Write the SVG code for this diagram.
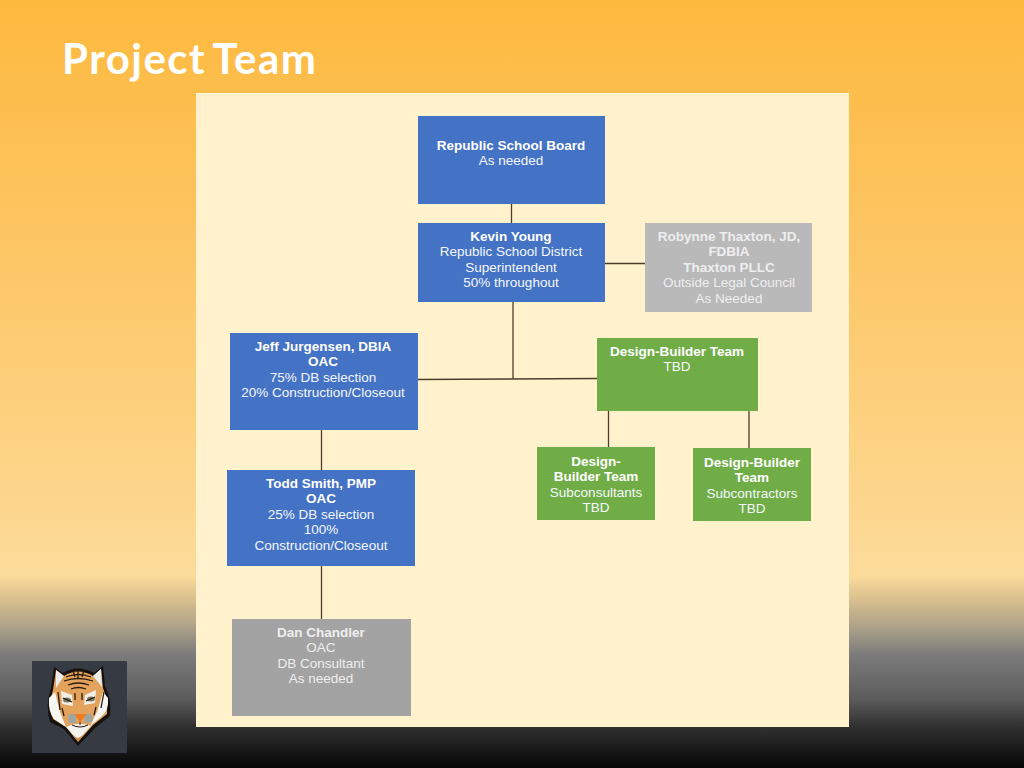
<svg xmlns="http://www.w3.org/2000/svg" width="1024" height="768" viewBox="0 0 1024 768">
<style>
.n{font:13.500px "Liberation Sans",Arial,sans-serif;fill:#f4f7fc;text-anchor:middle}
.b{font-weight:bold;fill:#fff}
.g{fill:#eeeeee}
.c{stroke:#4a3f2c;stroke-width:1.300;fill:none}
</style>
<defs>
<linearGradient id="bg" x1="0" y1="0" x2="0" y2="1">
<stop offset="0" stop-color="#fdb93e"/>
<stop offset="0.33" stop-color="#fdc665"/>
<stop offset="0.65" stop-color="#fdd68c"/>
<stop offset="0.75" stop-color="#fbdb9b"/>
<stop offset="0.78" stop-color="#d9c08e"/>
<stop offset="0.82" stop-color="#a89e88"/>
<stop offset="0.853" stop-color="#7b7b7b"/>
<stop offset="0.91" stop-color="#5c5c5c"/>
<stop offset="0.944" stop-color="#333333"/>
<stop offset="1" stop-color="#050505"/>
</linearGradient>
</defs>
<rect width="1024" height="768" fill="url(#bg)"/>
<rect x="196" y="93" width="653" height="634" fill="#fff2cc"/>
<text x="62" y="74" font-family="Lato,'Open Sans',sans-serif" font-size="42" font-weight="700" fill="#fff" word-spacing="-4" textLength="254">Project Team</text>
<g id="connectors" class="c">
<path d="M511.500 204V223"/>
<path d="M604 263.500H645"/>
<path d="M513 302V379"/>
<path d="M418 379.500L597 378.500"/>
<path d="M321.500 430V470"/>
<path d="M321.500 566V619"/>
<path d="M608.500 411V447"/>
<path d="M749 411V448"/>
</g>
<g id="school-board"><rect x="418" y="116" width="187" height="88" fill="#4472c4"/>
<text class="n" x="511" y="150"><tspan class="b">Republic School Board</tspan><tspan x="511" dy="15.400">As needed</tspan></text></g>
<g id="kevin-young"><rect x="418" y="223" width="187" height="79" fill="#4472c4"/>
<text class="n" x="511" y="241"><tspan class="b">Kevin Young</tspan><tspan x="511" dy="15.400">Republic School District</tspan><tspan x="511" dy="15.400">Superintendent</tspan><tspan x="511" dy="15.400">50% throughout</tspan></text></g>
<g id="robynne-thaxton"><rect x="645" y="223" width="167" height="89" fill="#b9b9b9"/>
<text class="n" x="729" y="241"><tspan class="b g">Robynne Thaxton, JD,</tspan><tspan class="b g" x="729" dy="15.400">FDBIA</tspan><tspan class="b g" x="729" dy="15.400">Thaxton PLLC</tspan><tspan class="g" x="729" dy="15.400">Outside Legal Council</tspan><tspan class="g" x="729" dy="15.400">As Needed</tspan></text></g>
<g id="jeff-jurgensen"><rect x="230" y="333" width="188" height="97" fill="#4472c4"/>
<text class="n" x="323" y="351"><tspan class="b">Jeff Jurgensen, DBIA</tspan><tspan class="b" x="323" dy="15.400">OAC</tspan><tspan x="323" dy="15.400">75% DB selection</tspan><tspan x="323" dy="15.400">20% Construction/Closeout</tspan></text></g>
<g id="todd-smith"><rect x="227" y="470" width="188" height="96" fill="#4472c4"/>
<text class="n" x="321" y="488"><tspan class="b">Todd Smith, PMP</tspan><tspan class="b" x="321" dy="15.400">OAC</tspan><tspan x="321" dy="15.400">25% DB selection</tspan><tspan x="321" dy="15.400">100%</tspan><tspan x="321" dy="15.400">Construction/Closeout</tspan></text></g>
<g id="dan-chandler"><rect x="232" y="619" width="179" height="97" fill="#a3a3a3"/>
<text class="n" x="321" y="637"><tspan class="b g">Dan Chandler</tspan><tspan class="g" x="321" dy="15.400">OAC</tspan><tspan class="g" x="321" dy="15.400">DB Consultant</tspan><tspan class="g" x="321" dy="15.400">As needed</tspan></text></g>
<g id="design-builder"><rect x="597" y="338" width="161" height="73" fill="#70ad47"/>
<text class="n" x="677" y="356"><tspan class="b">Design-Builder Team</tspan><tspan x="677" dy="15.400">TBD</tspan></text></g>
<g id="subconsultants"><rect x="537" y="447" width="118" height="73" fill="#70ad47"/>
<text class="n" x="596" y="466"><tspan class="b">Design-</tspan><tspan class="b" x="596" dy="15.400">Builder Team</tspan><tspan x="596" dy="15.400">Subconsultants</tspan><tspan x="596" dy="15.400">TBD</tspan></text></g>
<g id="subcontractors"><rect x="693" y="448" width="118" height="73" fill="#70ad47"/>
<text class="n" x="752" y="467"><tspan class="b">Design-Builder</tspan><tspan class="b" x="752" dy="15.400">Team</tspan><tspan x="752" dy="15.400">Subcontractors</tspan><tspan x="752" dy="15.400">TBD</tspan></text></g>
<g id="logo">
<rect x="32" y="661" width="95" height="92" fill="#363a42"/>
<path d="M54 667L63 673Q78 664 94 673L103 666L105 686Q112 700 110 716L95 728L78 746L64 729L50 722Q45 705 51 688Z" fill="#14110f"/>
<path d="M56 670L64 676Q78 667 93 676L101 669L103 688Q108 700 107 714L93 725L78 742L66 727L53 719Q48 705 53 690Z" fill="#e3a35c"/>
<path d="M56 670L64 676L56 688Z M101 669L93 676L102 687Z" fill="#ececec"/>
<path d="M49 698Q48 712 54 719L66 727L60 712L55 692Z M108 698Q109 710 102 716L90 726L97 712L103 692Z" fill="#f6f6f2"/>
<path d="M66 727Q78 721 91 726L78 740Z" fill="#f2f2ee"/>
<path d="M73 736L78 741L84 735L78 738Z" fill="#c98a48"/>
<path d="M61 691L72 695L73 706L62 704Z M96 690L85 695L84 705L95 703Z" fill="#efefe8"/>
<ellipse cx="67" cy="700" rx="4" ry="2.500" fill="#7d7a5e"/><ellipse cx="91" cy="699" rx="4" ry="2.500" fill="#7d7a5e"/>
<path d="M63 698L72 702M95 697L86 701" stroke="#1a120b" stroke-width="1.200" fill="none"/>
<g stroke="#2a1a0e" stroke-width="1.300" fill="none">
<path d="M66 677Q78 672 91 677M64 681Q78 676 93 681M68 685Q78 681 89 685M71 689Q78 686 86 689"/>
<path d="M78 668V678M73 670L75 677M84 670L82 677"/>
<path d="M58 692L60 710M104 692L101 708M62 708L64 716M96 707L94 715M75 693V700M82 693V700"/>
</g>
<path d="M68 716Q72 711 76 716L76 723L69 723Z M84 716Q88 711 93 716L92 722L85 723Z" fill="#9fa5a3"/>
<path d="M74 714H87L80 722Z" fill="#ee7b24"/>
<path d="M80 722V725M72 725Q80 729 88 725" stroke="#2a1a0e" stroke-width="1" fill="none"/>
</g>
</svg>
